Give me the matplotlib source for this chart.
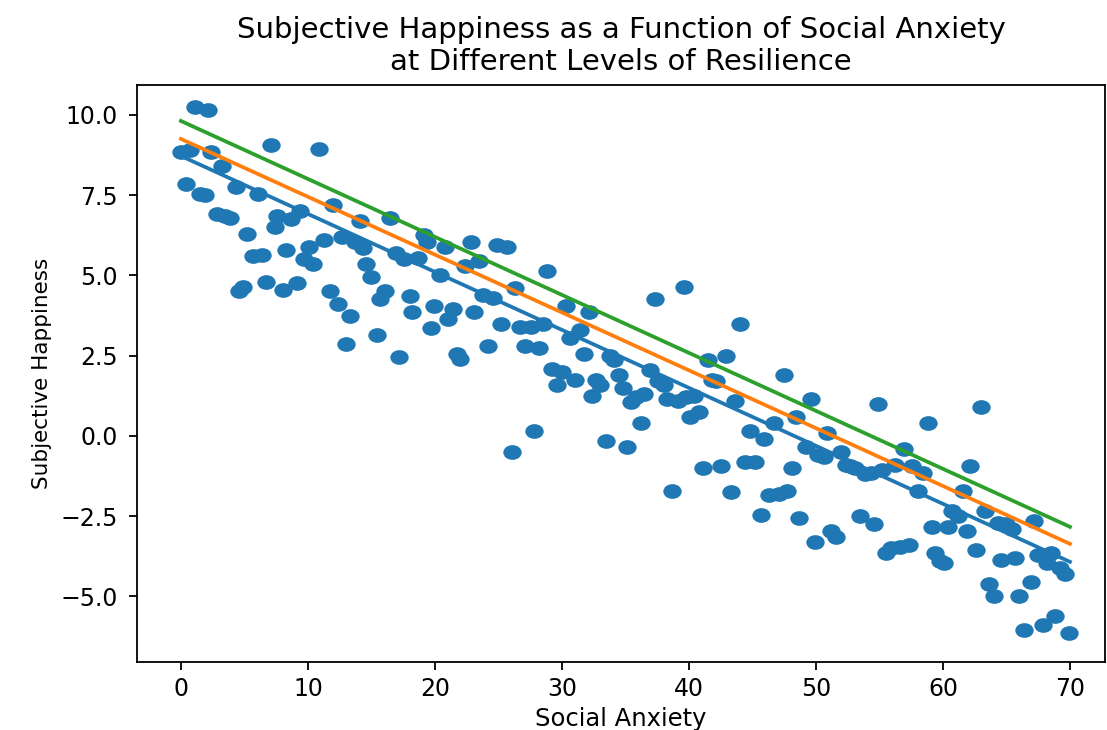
import numpy as np
import matplotlib
matplotlib.use("Agg")
import matplotlib.pyplot as plt
from matplotlib.path import Path
from matplotlib.transforms import Affine2D

social_anxiety = [
    0.0, 0.4, 0.7, 1.1, 1.5, 1.9, 2.1, 2.4, 2.8, 3.2, 3.5, 3.9, 4.3, 4.6, 4.9, 5.2,
    5.7, 6.1, 6.4, 6.7, 7.1, 7.4, 7.6, 8.0, 8.3, 8.7, 9.1, 9.4, 9.7, 10.1, 10.4, 10.9,
    11.3, 11.7, 12.0, 12.4, 12.7, 13.0, 13.3, 13.7, 14.1, 14.3, 14.6, 15.0, 15.4, 15.7,
    16.1, 16.5, 16.9, 17.2, 17.6, 18.0, 18.2, 18.7, 19.1, 19.4, 19.7, 19.9, 20.4, 20.8,
    21.0, 21.4, 21.7, 22.0, 22.4, 22.8, 23.1, 23.5, 23.8, 24.2, 24.6, 24.9, 25.2, 25.7,
    26.1, 26.3, 26.7, 27.1, 27.6, 27.8, 28.2, 28.5, 28.8, 29.2, 29.6, 30.0, 30.3, 30.6,
    31.0, 31.4, 31.7, 32.1, 32.4, 32.7, 33.0, 33.5, 33.8, 34.1, 34.5, 34.8, 35.1, 35.4,
    35.8, 36.2, 36.5, 36.9, 37.3, 37.6, 38.0, 38.3, 38.7, 39.1, 39.6, 39.8, 40.1, 40.4,
    40.8, 41.1, 41.5, 41.8, 42.1, 42.5, 42.9, 43.3, 43.6, 44.0, 44.4, 44.8, 45.2, 45.7,
    45.9, 46.3, 46.7, 47.1, 47.5, 47.7, 48.1, 48.4, 48.7, 49.2, 49.6, 49.9, 50.2, 50.6,
    50.9, 51.2, 51.6, 52.0, 52.4, 52.7, 53.1, 53.5, 53.9, 54.3, 54.6, 54.9, 55.2, 55.5,
    55.9, 56.2, 56.6, 56.9, 57.3, 57.6, 58.0, 58.4, 58.8, 59.1, 59.4, 59.8, 60.1, 60.4,
    60.7, 61.2, 61.6, 61.9, 62.1, 62.6, 63.0, 63.3, 63.6, 64.0, 64.3, 64.6, 65.0, 65.4,
    65.7, 66.0, 66.4, 66.9, 67.2, 67.5, 67.9, 68.2, 68.5, 68.8, 69.2, 69.6, 69.9,
]

subjective_happiness = [
    8.85, 7.85, 8.9, 10.25, 7.55, 7.5, 10.15, 8.85, 6.9, 8.4, 6.85, 6.8, 7.75, 4.5, 4.65, 6.3,
    5.6, 7.55, 5.65, 4.8, 9.05, 6.5, 6.85, 4.55, 5.8, 6.75, 4.75, 7.0, 5.5, 5.9, 5.35, 8.95,
    6.1, 4.5, 7.2, 4.1, 6.2, 2.85, 3.75, 6.05, 6.7, 5.85, 5.35, 4.95, 3.15, 4.25,
    4.5, 6.8, 5.7, 2.45, 5.5, 4.35, 3.85, 5.55, 6.25, 6.05, 3.35, 4.05, 5.0, 5.9,
    3.65, 3.95, 2.55, 2.4, 5.3, 6.05, 3.85, 5.45, 4.4, 2.8, 4.3, 5.95, 3.5, 5.9,
    -0.5, 4.6, 3.4, 2.8, 3.4, 0.15, 2.75, 3.5, 5.15, 2.1, 1.6, 2.0, 4.05, 3.05,
    1.75, 3.3, 2.55, 3.85, 1.25, 1.75, 1.6, -0.15, 2.5, 2.35, 1.9, 1.5, -0.35, 1.05,
    1.2, 0.4, 1.3, 2.05, 4.25, 1.7, 1.6, 1.15, -1.7, 1.1, 4.65, 1.2, 0.6, 1.25,
    0.75, -1.0, 2.35, 1.75, 1.7, -0.95, 2.5, -1.75, 1.1, 3.5, -0.8, 0.15, -0.8, -2.45,
    -0.1, -1.85, 0.4, -1.8, 1.9, -1.7, -1.0, 0.6, -2.55, -0.35, 1.15, -3.3, -0.6, -0.65,
    0.1, -2.95, -3.15, -0.5, -0.9, -0.95, -1.0, -2.5, -1.2, -1.15, -2.75, 1.0, -1.05, -3.65,
    -3.5, -0.9, -3.45, -0.4, -3.4, -0.95, -1.7, -1.15, 0.4, -2.85, -3.65, -3.9, -3.95, -2.85,
    -2.35, -2.5, -1.7, -2.95, -0.95, -3.55, 0.9, -2.35, -4.6, -5.0, -2.7, -3.85, -2.75, -2.9,
    -3.8, -5.0, -6.05, -4.55, -2.65, -3.7, -5.9, -3.95, -3.65, -5.6, -4.1, -4.3, -6.15,
]

line_x = [0, 70]
low_resilience = [8.72, -3.92]
mid_resilience = [9.25, -3.36]
high_resilience = [9.81, -2.83]

plt.rcParams['font.family'] = ['DejaVu Sans']

fig = plt.figure(figsize=(11.07, 7.30), dpi=100)
ax = fig.add_axes([137 / 1107, 1 - 662 / 730, (1105 - 137) / 1107, (662 - 85) / 730])

# ellipse marker (reference is horizontally stretched)
circ = Path.unit_circle()
ell = Affine2D().scale(1.0, 0.80).transform_path(circ)

ax.scatter(social_anxiety, subjective_happiness, s=175, marker=ell,
           color='#1f77b4', linewidths=0, zorder=2)
ax.plot(line_x, low_resilience, color='#1f77b4', lw=2.7, zorder=3)
ax.plot(line_x, mid_resilience, color='#ff7f0e', lw=2.7, zorder=3)
ax.plot(line_x, high_resilience, color='#2ca02c', lw=2.7, zorder=3)

ax.set_xlim(-3.46, 72.76)
ax.set_ylim(-7.04, 10.93)
ax.set_xticks([0, 10, 20, 30, 40, 50, 60, 70])
ax.set_yticks([-5.0, -2.5, 0.0, 2.5, 5.0, 7.5, 10.0])
ax.set_yticklabels(['\u22125.0', '\u22122.5', '0.0', '2.5', '5.0', '7.5', '10.0'])

ax.tick_params(labelsize=17, length=6, width=1.3)
ax.tick_params(axis='y', pad=8)
ax.tick_params(axis='x', pad=5)
for sp in ax.spines.values():
    sp.set_linewidth(1.3)

ax.set_title('Subjective Happiness as a Function of Social Anxiety\nat Different Levels of Resilience',
             fontsize=21, pad=11, linespacing=1.15)
ax.set_xlabel('Social Anxiety', fontsize=17.5, labelpad=4)
ax.set_ylabel('Subjective Happiness', fontsize=15.5, labelpad=6)

fig.savefig('out.png', dpi=100)
